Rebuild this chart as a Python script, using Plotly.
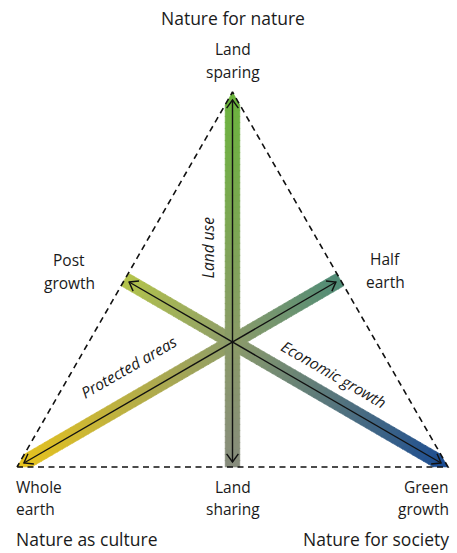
import math
import plotly.graph_objects as go

# ---------------- data ----------------
# triangle corners (unit coordinates): whole earth, green growth, land sparing
vertex_names = ["Whole earth", "Green growth", "Land sparing"]
vertex_u = [0.0, 1.0, 0.5]
vertex_v = [0.0, 0.0, 1.0]
# labels at the midpoint of the edge opposite each corner
midpoint_names = ["Half earth", "Post growth", "Land sharing"]
# titles near corners
corner_titles = ["Nature as culture", "Nature for society", "Nature for nature"]
# axis (bar) names: each bar runs from an edge midpoint to the opposite corner
axis_names = ["Protected areas", "Economic growth", "Land use"]
# gradient colours of each bar: [midpoint end, centre, corner end]
axis_colors = [
    ["#4e8b76", "#8d9c6a", "#e8c31c"],
    ["#b4c44b", "#8d9c6a", "#1a4b92"],
    ["#878c7d", "#8b9b68", "#6bb43d"],
]

# ---------------- layout constants (pixels) ----------------
W, H = 457, 553
X0, SX = 17.0, 431.0      # u -> px
Y0, SY = 467.0, 375.0     # v -> px (downwards)
HALF_W = 7.3
FONT = "Open Sans"
TXT = "#1a1a1a"


def to_px(u, v):
    return X0 + SX * u, Y0 - SY * v


def to_data(px, py):
    return (px - X0) / SX, (Y0 - py) / SY


def hex2rgb(h):
    h = h.lstrip("#")
    return tuple(int(h[i:i + 2], 16) for i in (0, 2, 4))


def lerp_color(stops, positions, t):
    for i in range(len(positions) - 1):
        if t <= positions[i + 1] or i == len(positions) - 2:
            a, b = positions[i], positions[i + 1]
            f = min(max((t - a) / (b - a), 0), 1)
            c1, c2 = hex2rgb(stops[i]), hex2rgb(stops[i + 1])
            c = [round(c1[k] + (c2[k] - c1[k]) * f) for k in range(3)]
            return "rgb(%d,%d,%d)" % tuple(c)


verts_px = [to_px(u, v) for u, v in zip(vertex_u, vertex_v)]
cx = sum(p[0] for p in verts_px) / 3
cy = sum(p[1] for p in verts_px) / 3

shapes = []
arrow_x, arrow_y = [], []
chev_x, chev_y = [], []

for i in range(3):
    ex, ey = verts_px[i]
    o1, o2 = verts_px[(i + 1) % 3], verts_px[(i + 2) % 3]
    sx, sy = (o1[0] + o2[0]) / 2, (o1[1] + o2[1]) / 2
    L = math.hypot(ex - sx, ey - sy)
    dx, dy = (ex - sx) / L, (ey - sy) / L
    nx, ny = -dy, dx
    tc = math.hypot(cx - sx, cy - sy) / L
    sb = L - HALF_W / math.tan(math.radians(30))
    N = 60
    cols = axis_colors[i]
    for k in range(N):
        s0 = sb * k / N
        s1 = min(sb * (k + 1) / N + 0.7, sb)
        col = lerp_color(cols, [0, tc, 1], (s0 + s1) / 2 / L)
        pts = [
            (sx + dx * s0 + nx * HALF_W, sy + dy * s0 + ny * HALF_W),
            (sx + dx * s1 + nx * HALF_W, sy + dy * s1 + ny * HALF_W),
            (sx + dx * s1 - nx * HALF_W, sy + dy * s1 - ny * HALF_W),
            (sx + dx * s0 - nx * HALF_W, sy + dy * s0 - ny * HALF_W),
        ]
        path = "M " + " L ".join("%.5f,%.5f" % to_data(*p) for p in pts) + " Z"
        shapes.append(dict(type="path", path=path, xref="x", yref="y",
                           fillcolor=col, line=dict(width=0.6, color=col),
                           layer="below"))
    # tip triangle at the corner
    col = lerp_color(cols, [0, tc, 1], 0.995)
    pts = [
        (sx + dx * (sb - 0.5) + nx * HALF_W, sy + dy * (sb - 0.5) + ny * HALF_W),
        (ex, ey),
        (sx + dx * (sb - 0.5) - nx * HALF_W, sy + dy * (sb - 0.5) - ny * HALF_W),
    ]
    path = "M " + " L ".join("%.5f,%.5f" % to_data(*p) for p in pts) + " Z"
    shapes.append(dict(type="path", path=path, xref="x", yref="y",
                       fillcolor=col, line=dict(width=0.6, color=col),
                       layer="below"))

    # black double arrow
    t1 = (sx + dx * 5, sy + dy * 5)
    t2 = (ex - dx * 8, ey - dy * 8)
    for p in (t1, t2):
        u, v = to_data(*p)
        arrow_x.append(u)
        arrow_y.append(v)
    arrow_x.append(None)
    arrow_y.append(None)
    a, ang = 10.0, math.radians(36)
    for (tx, ty), (ox, oy) in ((t1, (-dx, -dy)), (t2, (dx, dy))):
        pnx, pny = -oy, ox
        for sgn in (1, -1):
            bx = tx - a * (math.cos(ang) * ox + sgn * math.sin(ang) * pnx)
            by = ty - a * (math.cos(ang) * oy + sgn * math.sin(ang) * pny)
            for p in ((bx, by), (tx, ty)):
                u, v = to_data(*p)
                chev_x.append(u)
                chev_y.append(v)
        chev_x.append(None)
        chev_y.append(None)

fig = go.Figure()
# dashed triangle
fig.add_trace(go.Scatter(
    x=vertex_u + [vertex_u[0]], y=vertex_v + [vertex_v[0]], mode="lines",
    line=dict(color="#111111", width=1.6, dash="6px,4.5px"),
    hoverinfo="skip"))
fig.add_trace(go.Scatter(x=arrow_x, y=arrow_y, mode="lines",
                         line=dict(color="#111111", width=1.4),
                         hoverinfo="skip"))
fig.add_trace(go.Scatter(x=chev_x, y=chev_y, mode="lines",
                         line=dict(color="#111111", width=1.4),
                         hoverinfo="skip"))

ann = []


def add_text(text, u, v, xs, ys, size, xanchor="center", angle=0):
    ann.append(dict(text=text, x=u, y=v, xref="x", yref="y", xshift=xs,
                    yshift=ys, showarrow=False, xanchor=xanchor,
                    yanchor="middle", textangle=angle,
                    font=dict(family=FONT, size=size, color=TXT)))


LBL = 15.5
TTL = 17.5
ITL = 15.5
cu, cv = to_data(cx, cy)
# corner labels
wu, wv = vertex_u[0], vertex_v[0]
gu, gv = vertex_u[1], vertex_v[1]
lu, lv = vertex_u[2], vertex_v[2]
w1, w2 = vertex_names[0].split(" ")
add_text(w1, wu, wv, -3, -20, LBL, "left")
add_text(w2, wu, wv, -3, -42, LBL, "left")
g1, g2 = vertex_names[1].split(" ")
add_text(g1, gu, gv, 3, -20, LBL, "right")
add_text(g2, gu, gv, 3, -42, LBL, "right")
s1, s2 = vertex_names[2].split(" ")
add_text(s1, lu, lv, 0, 43, LBL)
add_text(s2, lu, lv, 0, 20, LBL)
# corner titles
add_text(corner_titles[0], wu, wv, -3, -72, TTL, "left")
add_text(corner_titles[1], gu, gv, 3, -72, TTL, "right")
add_text(corner_titles[2], lu, lv, 0, 74, TTL)
# midpoint labels
mids = []
for i in range(3):
    o1, o2 = (i + 1) % 3, (i + 2) % 3
    mids.append(((vertex_u[o1] + vertex_u[o2]) / 2, (vertex_v[o1] + vertex_v[o2]) / 2))
h1, h2 = midpoint_names[0].split(" ")
add_text(h1, *mids[0], 45, 20.5, LBL)
add_text(h2, *mids[0], 45, -2.5, LBL)
p1, p2 = midpoint_names[1].split(" ")
add_text(p1, *mids[1], -56, 19.5, LBL)
add_text(p2, *mids[1], -55, -3.5, LBL)
d1, d2 = midpoint_names[2].split(" ")
add_text(d1, *mids[2], 0, -20, LBL)
add_text(d2, *mids[2], 0, -42, LBL)
# axis names (italic, along the bars)
add_text("<i>%s</i>" % axis_names[0], cu, cv, -104, -25, ITL, angle=-30)
add_text("<i>%s</i>" % axis_names[1], cu, cv, 101, -32, ITL, angle=30)
add_text("<i>%s</i>" % axis_names[2], cu, cv, -25, 94, ITL, angle=-90)

xr = [to_data(0, 0)[0], to_data(W, 0)[0]]
yr = [to_data(0, H)[1], to_data(0, 0)[1]]
fig.update_layout(
    width=W, height=H, autosize=False,
    margin=dict(l=0, r=0, t=0, b=0, pad=0),
    paper_bgcolor="white", plot_bgcolor="white",
    showlegend=False, shapes=shapes, annotations=ann,
    xaxis=dict(range=xr, visible=False, fixedrange=True),
    yaxis=dict(range=yr, visible=False, fixedrange=True),
)
fig.write_html("out.html", config={"displayModeBar": False},
               post_script="document.body.style.margin='0';document.body.style.overflow='hidden';")
